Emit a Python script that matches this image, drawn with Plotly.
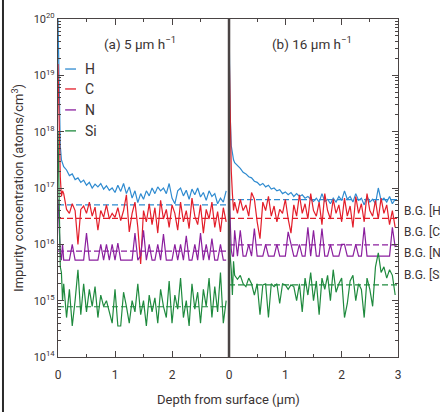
import numpy as np
import plotly.graph_objects as go

# depth grid (um), same for both panels
depth = [0, 0.02, 0.04, 0.06, 0.08, 0.10,
         0.15, 0.20, 0.25, 0.30, 0.35, 0.40, 0.45, 0.50, 0.55, 0.60,
         0.65, 0.70, 0.75, 0.80, 0.85, 0.90, 0.95, 1.00, 1.05, 1.10,
         1.15, 1.20, 1.25, 1.30, 1.35, 1.40, 1.45, 1.50, 1.55, 1.60,
         1.65, 1.70, 1.75, 1.80, 1.85, 1.90, 1.95, 2.00, 2.05, 2.10,
         2.15, 2.20, 2.25, 2.30, 2.35, 2.40, 2.45, 2.50, 2.55, 2.60,
         2.65, 2.70, 2.75, 2.80, 2.85, 2.90, 2.95]

# log10 of concentration (atoms/cm3), panel (a) 5 um/h
a_H = [20.0, 18.5, 17.75, 17.5, 17.45, 17.38,
       17.32, 17.22, 17.25, 17.15, 17.18, 17.10, 17.14, 17.05, 17.10, 17.00,
       17.07, 17.02, 17.08, 16.98, 17.04, 16.96, 17.00, 16.92, 17.05, 16.94,
       17.08, 16.90, 17.02, 16.82, 16.95, 16.74, 16.90, 16.80, 16.95, 16.86,
       17.00, 16.90, 17.02, 16.95, 17.00, 16.90, 17.08, 16.82, 16.72, 16.95,
       17.00, 16.86, 16.96, 16.80, 16.98, 16.88, 17.00, 16.84, 16.92, 16.78,
       16.95, 16.85, 16.90, 16.72, 16.82, 16.75, 16.95]
a_C = [19.2, 18.0, 17.2, 16.85, 16.95, 16.9,
       16.62, 16.55, 16.72, 16.60, 16.00, 16.62, 16.68, 16.55, 16.75, 16.50,
       16.66, 16.25, 16.60, 16.48, 16.70, 16.45, 16.55, 16.48, 16.65, 16.42,
       16.60, 16.88, 16.22, 16.55, 16.75, 16.30, 15.65, 16.60, 16.40, 16.72,
       16.35, 16.65, 16.20, 16.78, 16.45, 16.62, 16.30, 16.70, 16.55, 16.25,
       16.75, 16.40, 16.60, 16.28, 16.82, 16.50, 16.35, 16.70, 16.20, 16.62,
       16.45, 16.75, 16.30, 16.58, 16.22, 16.65, 16.40]
a_N = [16.8, 16.2, 15.85, 15.72, 16.0, 15.72,
       15.72, 15.72, 16.0, 15.72, 15.72, 15.72, 15.72, 16.2, 15.72, 15.72,
       15.72, 15.72, 16.0, 15.72, 16.0, 15.72, 16.0, 15.72, 16.02, 15.72,
       15.72, 15.72, 15.72, 15.72, 16.2, 15.72, 15.8, 16.25, 15.72, 16.0,
       15.72, 15.72, 16.0, 15.72, 16.18, 15.72, 15.72, 15.72, 16.0, 15.72,
       16.0, 15.72, 16.15, 15.72, 15.72, 16.0, 15.72, 16.2, 15.72, 16.0,
       15.72, 16.1, 15.72, 15.72, 16.0, 15.72, 15.72]
a_Si = [18.0, 16.5, 15.6, 15.5, 15.0, 15.3,
        14.7, 15.2, 14.55, 15.0, 15.55, 14.75, 15.3, 14.8, 15.2, 14.9,
        15.25, 14.7, 15.1, 14.9, 15.0, 14.8, 14.6, 15.2, 14.55, 14.55,
        15.15, 14.9, 14.6, 15.0, 14.8, 15.3, 14.75, 15.0, 14.55, 15.1,
        14.8, 15.05, 14.6, 15.2, 14.9, 14.7, 15.35, 14.6, 15.1, 14.85,
        15.4, 14.7, 15.0, 14.55, 15.3, 14.85, 15.15, 14.6, 15.2, 14.9,
        15.4, 14.7, 15.25, 14.8, 15.5, 14.6, 15.0]

# panel (b) 16 um/h
b_H = [20.0, 18.3, 17.75, 17.6, 17.5, 17.45,
       17.40, 17.35, 17.28, 17.25, 17.2, 17.18, 17.12, 17.1, 17.05, 17.08,
       17.02, 17.05, 16.98, 17.0, 16.95, 16.97, 16.9, 16.93, 16.88, 16.92,
       16.85, 16.9, 16.85, 16.88, 16.82, 16.85, 16.8, 16.76, 16.82, 16.75,
       16.9, 16.76, 16.8, 16.72, 16.82, 16.75, 16.85, 16.78, 16.95, 16.8,
       16.85, 16.75, 16.9, 16.78, 16.82, 16.7, 16.85, 16.75, 16.8, 16.72,
       17.0, 16.78, 16.82, 16.75, 16.85, 16.72, 16.8]
b_C = [19.6, 18.2, 17.3, 16.9, 16.6, 16.75,
       16.55, 16.8, 16.6, 16.7, 16.5, 16.92, 16.8, 16.4, 16.1, 16.75,
       16.6, 16.85, 16.5, 16.68, 16.4, 16.62, 16.55, 16.8, 16.45, 16.2,
       16.7, 16.5, 16.88, 16.55, 16.72, 16.45, 16.9, 16.6, 16.5, 16.75,
       16.35, 16.9, 16.6, 16.45, 16.8, 16.55, 16.7, 16.4, 16.82, 16.5,
       16.68, 16.3, 16.85, 16.55, 16.72, 16.4, 16.9, 16.6, 16.5, 16.78,
       16.45, 16.82, 16.55, 16.7, 16.35, 16.6, 16.3]
b_N = [17.0, 16.3, 15.9, 15.79, 15.79, 16.25,
       15.79, 16.25, 15.79, 15.79, 16.0, 15.79, 16.28, 15.79, 15.79, 15.79,
       16.0, 15.79, 15.79, 15.79, 16.0, 15.79, 15.79, 15.79, 16.22, 16.0,
       15.79, 15.79, 16.0, 15.79, 15.79, 16.3, 15.79, 16.25, 15.79, 15.79,
       16.28, 15.79, 15.79, 16.0, 15.79, 15.79, 15.79, 16.0, 16.0, 15.79,
       15.79, 15.79, 16.0, 15.79, 15.79, 16.3, 15.79, 15.79, 15.79, 15.79,
       15.79, 15.79, 15.79, 15.79, 15.79, 16.3, 15.95]
b_Si = [16.6, 15.8, 15.55, 15.1, 15.7, 15.45,
        15.38, 15.45, 15.3, 15.25, 15.4, 15.3, 15.1, 15.3, 14.75, 15.28,
        15.3, 14.7, 15.3, 15.25, 15.3, 14.95, 15.3, 15.28, 15.2, 15.28,
        15.25, 15.0, 15.3, 14.8, 15.4, 15.1, 15.5, 15.0, 15.35, 14.75,
        15.4, 15.2, 15.45, 15.0, 15.55, 15.15, 15.3, 15.4, 14.7, 14.95,
        15.35, 15.45, 15.0, 15.3, 15.2, 14.7, 15.4, 15.2, 14.9, 15.6,
        15.85, 15.5, 15.6, 15.4, 15.55, 15.45, 15.1]

elements = ['H', 'C', 'N', 'Si']
colors = ['#2f8bd0', '#e31e2a', '#8b1f9e', '#1f8a3e']
bg_a = [5.0e16, 2.9e16, 7.6e15, 7.8e14]
bg_b = [6.2e16, 2.9e16, 9.8e15, 1.9e15]
bg_range = [0, 3]

txt = '#3a3333'
axc = '#4a4444'
fnt = 'Roboto, Noto Sans, sans-serif'

fig = go.Figure()
for el, col, ya, yb, ga, gb in zip(elements, colors, [a_H, a_C, a_N, a_Si], [b_H, b_C, b_N, b_Si], bg_a, bg_b):
    fig.add_trace(go.Scatter(x=bg_range, y=[ga, ga], mode='lines', xaxis='x', yaxis='y',
                             line=dict(color=col, width=1.2, dash='6px,3px'), showlegend=False))
    fig.add_trace(go.Scatter(x=bg_range, y=[gb, gb], mode='lines', xaxis='x2', yaxis='y2',
                             line=dict(color=col, width=1.2, dash='6px,3px'), showlegend=False))
    fig.add_trace(go.Scatter(x=depth, y=np.power(10.0, ya), mode='lines', xaxis='x', yaxis='y',
                             line=dict(color=col, width=1.2), showlegend=False))
    fig.add_trace(go.Scatter(x=depth, y=np.power(10.0, yb), mode='lines', xaxis='x2', yaxis='y2',
                             line=dict(color=col, width=1.2), showlegend=False))

split = 0.503
xcommon = dict(range=[0, 3], showgrid=False, zeroline=False, showline=True, linecolor=axc, linewidth=1.2,
               ticks='inside', ticklen=6, tickcolor=axc, mirror='ticks', ticklabelstandoff=6,
               minor=dict(ticks='inside', ticklen=3, dtick=0.5, tickcolor=axc),
               tickfont=dict(family=fnt, size=12, color=txt))
yticks = [1e14, 1e15, 1e16, 1e17, 1e18, 1e19, 1e20]
ylabels = ['10<sup>%d</sup>' % p for p in range(14, 21)]
ycommon = dict(type='log', range=[14, 20], showgrid=False, zeroline=False, showline=True, linecolor=axc,
               linewidth=1.2, ticks='inside', ticklen=6, tickcolor=axc, tickvals=yticks,
               minor=dict(ticks='inside', ticklen=3, dtick='D1', tickcolor=axc))

fig.update_layout(
    width=440, height=412, margin=dict(l=58, r=42, t=19, b=55),
    paper_bgcolor='white', plot_bgcolor='white',
    xaxis=dict(domain=[0, split], anchor='y', tickvals=[0, 1, 2], **xcommon),
    xaxis2=dict(domain=[split, 1], anchor='y2', tickvals=[0, 1, 2, 3], **xcommon),
    yaxis=dict(anchor='x', ticktext=ylabels, tickfont=dict(family=fnt, size=11, color=txt), **ycommon),
    yaxis2=dict(anchor='x2', matches='y', side='right', showticklabels=False, **ycommon),
    showlegend=False,
)

# panel divider and page border on the left
fig.add_shape(type='line', xref='paper', yref='paper', x0=split, x1=split, y0=0, y1=1,
              line=dict(color='#4a4444', width=2.5))
fig.add_shape(type='line', xref='paper', yref='paper', x0=-0.1618, x1=-0.1618, y0=-0.17, y1=1.06,
              line=dict(color='#2a2a2a', width=2))

# legend drawn by hand
leg_y = [0.852, 0.793, 0.731, 0.669]
for el, col, ly in zip(elements, colors, leg_y):
    fig.add_shape(type='line', xref='paper', yref='paper', x0=0.021, x1=0.053, y0=ly, y1=ly,
                  line=dict(color=col, width=1.3))
    fig.add_annotation(xref='paper', yref='paper', x=0.074, y=ly, text=el, showarrow=False,
                       xanchor='left', yanchor='middle', font=dict(family=fnt, size=14, color=txt))

fig.add_annotation(xref='paper', yref='paper', x=0.241, y=0.929, text='(a) 5 μm h<sup>−1</sup>',
                   xanchor='center', yanchor='middle', showarrow=False,
                   font=dict(family=fnt, size=13.5, color=txt))
fig.add_annotation(xref='paper', yref='paper', x=0.747, y=0.929, text='(b) 16 μm h<sup>−1</sup>',
                   xanchor='center', yanchor='middle', showarrow=False,
                   font=dict(family=fnt, size=13.5, color=txt))

bg_labels = ['B.G. [H]', 'B.G. [C]', 'B.G. [N]', 'B.G. [Si]']
bg_y = [0.432, 0.370, 0.308, 0.243]
for lab, ly in zip(bg_labels, bg_y):
    fig.add_annotation(xref='paper', yref='paper', x=1.012, y=ly, text=lab, showarrow=False,
                       xanchor='left', yanchor='middle', font=dict(family=fnt, size=12, color=txt))

fig.add_annotation(xref='paper', yref='paper', x=-0.118, y=0.5, text='Impurity concentration (atoms/cm<sup>3</sup>)',
                   textangle=-90, xanchor='center', yanchor='middle', showarrow=False,
                   font=dict(family=fnt, size=13, color=txt))
fig.add_annotation(xref='paper', yref='paper', x=0.5, y=-0.127, text='Depth from surface (μm)',
                   xanchor='center', yanchor='middle', showarrow=False,
                   font=dict(family=fnt, size=13, color=txt))

fig.write_html("out.html", config={'displayModeBar': False},
               post_script="document.body.style.margin='0';document.body.style.overflow='hidden';")
